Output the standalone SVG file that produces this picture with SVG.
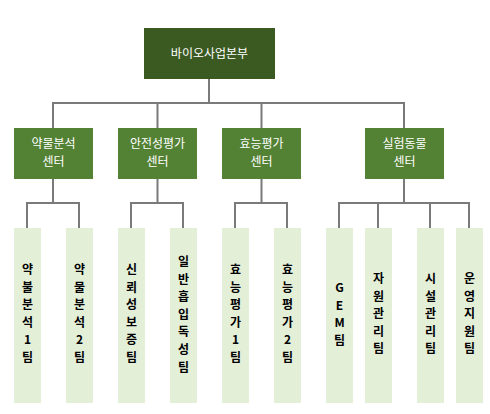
<svg xmlns="http://www.w3.org/2000/svg" width="490" height="414" viewBox="0 0 490 414">
<style>
.top{fill:#3b5a22}
.mid{fill:#548235}
.team{fill:#e4efd8}
.lw{font-family:"Noto Sans CJK KR","Malgun Gothic",sans-serif;font-size:12px;fill:#ffffff;text-anchor:middle}
.lt{font-family:"Noto Sans CJK KR","Malgun Gothic",sans-serif;font-size:12px;font-weight:bold;fill:#000000;text-anchor:middle}
.conn{fill:none;stroke:#7a7a7a;stroke-width:2}
</style>
<rect width="490" height="414" fill="#ffffff"/>
<g id="connectors" class="conn">
<path d="M209,79V103M53,128V103H404V128M157.5,103V128M261.5,103V128"/>
<path d="M53,179V203M27,228V203H79V228"/>
<path d="M157.5,179V203M131,228V203H183V228"/>
<path d="M261.5,179V203M235,228V203H287V228"/>
<path d="M404,179V203M339,228V203H469V228M378,203V228M430,203V228"/>
</g>
<g id="n-root"><rect class="top" x="144" y="28" width="131" height="51"/><text class="lw" x="209.5" y="57.5">바이오사업본부</text></g>
<g id="n-c1"><rect class="mid" x="14" y="128" width="79" height="51"/><text class="lw" x="53.5" y="148">약물분석</text><text class="lw" x="53.5" y="166">센터</text></g>
<g id="n-c2"><rect class="mid" x="118" y="128" width="79" height="51"/><text class="lw" x="157.5" y="148">안전성평가</text><text class="lw" x="157.5" y="166">센터</text></g>
<g id="n-c3"><rect class="mid" x="222" y="128" width="79" height="51"/><text class="lw" x="261.5" y="148">효능평가</text><text class="lw" x="261.5" y="166">센터</text></g>
<g id="n-c4"><rect class="mid" x="365" y="128" width="79" height="51"/><text class="lw" x="404.5" y="148">실험동물</text><text class="lw" x="404.5" y="166">센터</text></g>
<g id="n-t1"><rect class="team" x="14" y="228" width="27" height="175"/><text class="lt" y="274"><tspan x="27.5">약</tspan><tspan x="27.5" dy="17.6">불</tspan><tspan x="27.5" dy="17.6">분</tspan><tspan x="27.5" dy="17.6">석</tspan><tspan x="27.5" dy="17.6">1</tspan><tspan x="27.5" dy="17.6">팀</tspan></text></g>
<g id="n-t2"><rect class="team" x="66" y="228" width="27" height="175"/><text class="lt" y="274"><tspan x="79.5">약</tspan><tspan x="79.5" dy="17.6">물</tspan><tspan x="79.5" dy="17.6">분</tspan><tspan x="79.5" dy="17.6">석</tspan><tspan x="79.5" dy="17.6">2</tspan><tspan x="79.5" dy="17.6">팀</tspan></text></g>
<g id="n-t3"><rect class="team" x="118" y="228" width="27" height="175"/><text class="lt" y="274"><tspan x="131.5">신</tspan><tspan x="131.5" dy="17.6">뢰</tspan><tspan x="131.5" dy="17.6">성</tspan><tspan x="131.5" dy="17.6">보</tspan><tspan x="131.5" dy="17.6">증</tspan><tspan x="131.5" dy="17.6">팀</tspan></text></g>
<g id="n-t4"><rect class="team" x="170" y="228" width="27" height="175"/><text class="lt" y="266"><tspan x="183.5">일</tspan><tspan x="183.5" dy="17.6">반</tspan><tspan x="183.5" dy="17.6">흡</tspan><tspan x="183.5" dy="17.6">입</tspan><tspan x="183.5" dy="17.6">독</tspan><tspan x="183.5" dy="17.6">성</tspan><tspan x="183.5" dy="17.6">팀</tspan></text></g>
<g id="n-t5"><rect class="team" x="222" y="228" width="27" height="175"/><text class="lt" y="274"><tspan x="235.5">효</tspan><tspan x="235.5" dy="17.6">능</tspan><tspan x="235.5" dy="17.6">평</tspan><tspan x="235.5" dy="17.6">가</tspan><tspan x="235.5" dy="17.6">1</tspan><tspan x="235.5" dy="17.6">팀</tspan></text></g>
<g id="n-t6"><rect class="team" x="274" y="228" width="27" height="175"/><text class="lt" y="274"><tspan x="287.5">효</tspan><tspan x="287.5" dy="17.6">능</tspan><tspan x="287.5" dy="17.6">평</tspan><tspan x="287.5" dy="17.6">가</tspan><tspan x="287.5" dy="17.6">2</tspan><tspan x="287.5" dy="17.6">팀</tspan></text></g>
<g id="n-t7"><rect class="team" x="326" y="228" width="27" height="175"/><text class="lt" y="292"><tspan x="339.5">G</tspan><tspan x="339.5" dy="17.6">E</tspan><tspan x="339.5" dy="17.6">M</tspan><tspan x="339.5" dy="17.6">팀</tspan></text></g>
<g id="n-t8"><rect class="team" x="365" y="228" width="27" height="175"/><text class="lt" y="283"><tspan x="378.5">자</tspan><tspan x="378.5" dy="17.6">원</tspan><tspan x="378.5" dy="17.6">관</tspan><tspan x="378.5" dy="17.6">리</tspan><tspan x="378.5" dy="17.6">팀</tspan></text></g>
<g id="n-t9"><rect class="team" x="417" y="228" width="27" height="175"/><text class="lt" y="283"><tspan x="430.5">시</tspan><tspan x="430.5" dy="17.6">설</tspan><tspan x="430.5" dy="17.6">관</tspan><tspan x="430.5" dy="17.6">리</tspan><tspan x="430.5" dy="17.6">팀</tspan></text></g>
<g id="n-t10"><rect class="team" x="456" y="228" width="27" height="175"/><text class="lt" y="283"><tspan x="469.5">운</tspan><tspan x="469.5" dy="17.6">영</tspan><tspan x="469.5" dy="17.6">지</tspan><tspan x="469.5" dy="17.6">원</tspan><tspan x="469.5" dy="17.6">팀</tspan></text></g>
</svg>
